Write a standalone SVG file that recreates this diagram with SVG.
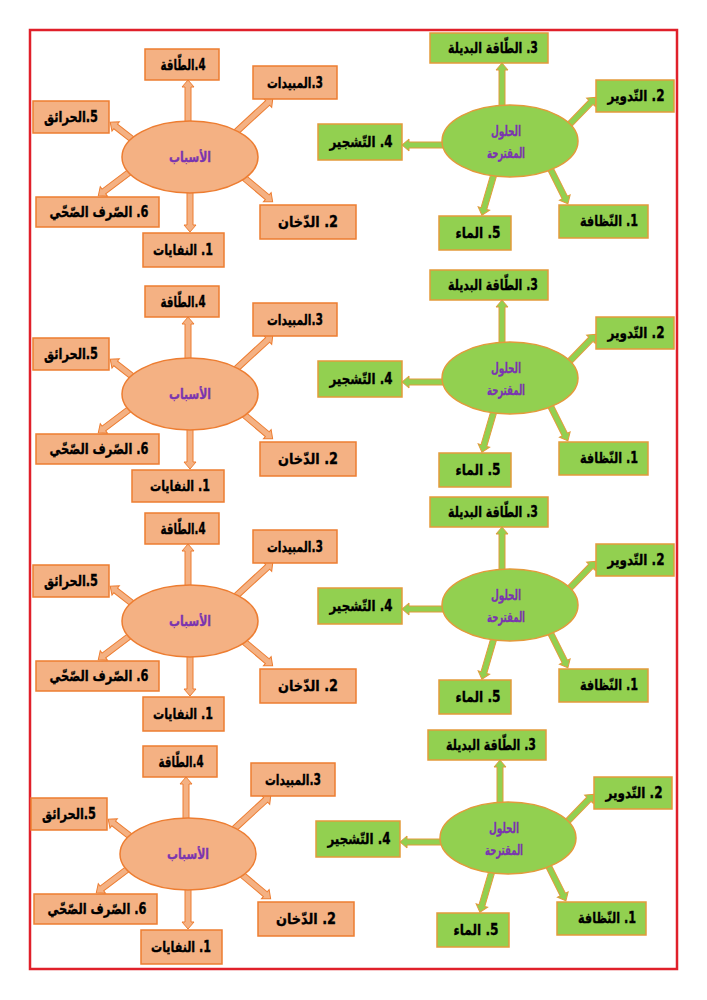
<svg xmlns="http://www.w3.org/2000/svg" width="707" height="1000" viewBox="0 0 707 1000">
<style>
.bo{fill:#F4B183;stroke:#ED7D31;stroke-width:1.5}
.bg{fill:#92D050;stroke:#E39A3B;stroke-width:1.5}
.ao{fill:#F4B183;stroke:#ED7D31;stroke-width:1}
.ag{fill:#92D050;stroke:#E39A3B;stroke-width:1}
.t{font-family:"DejaVu Sans",sans-serif;font-weight:bold;font-size:15px;fill:#000;stroke:#000;stroke-width:0.35;text-anchor:middle;direction:rtl}
.tc{font-family:"DejaVu Sans",sans-serif;font-weight:bold;font-size:14px;fill:#7A35B0;stroke:#7A35B0;stroke-width:0.3;text-anchor:middle;direction:rtl}
</style>
<rect x="0" y="0" width="707" height="1000" fill="#fff"/>
<rect x="30" y="30" width="647" height="939" fill="none" stroke="#E0202A" stroke-width="2.5"/>
<defs>
<g id="arrC">
<path class="ao" transform="translate(188,124) rotate(-90)" d="M0,-3H37V-6L44,0L37,6V3H0Z"/>
<path class="ao" transform="translate(236,132) rotate(-42.6)" d="M0,-3H43V-6L50,0L43,6V3H0Z"/>
<path class="ao" transform="translate(133,140) rotate(-141.9)" d="M0,-3H22V-6L29,0L22,6V3H0Z"/>
<path class="ao" transform="translate(131,171) rotate(142.9)" d="M0,-3H34V-6L41,0L34,6V3H0Z"/>
<path class="ao" transform="translate(190,191) rotate(90)" d="M0,-3H34V-6L41,0L34,6V3H0Z"/>
<path class="ao" transform="translate(242,176) rotate(40)" d="M0,-3H33V-6L40,0L33,6V3H0Z"/>
</g>
<g id="arrS">
<path class="ag" transform="translate(502,108) rotate(-90)" d="M0,-3H38V-6L45,0L38,6V3H0Z"/>
<path class="ag" transform="translate(568,126) rotate(-46)" d="M0,-3H33V-6L40,0L33,6V3H0Z"/>
<path class="ag" transform="translate(445,145) rotate(180)" d="M0,-3H36V-6L43,0L36,6V3H0Z"/>
<path class="ag" transform="translate(550,168) rotate(63.4)" d="M0,-3H33V-6L40,0L33,6V3H0Z"/>
<path class="ag" transform="translate(494,174) rotate(106.3)" d="M0,-3H36V-6L43,0L36,6V3H0Z"/>
</g>
</defs>
<g id="connectors">
<use href="#arrC"/><use href="#arrS"/>
<use href="#arrC" transform="translate(0,237)"/><use href="#arrS" transform="translate(0,237)"/>
<use href="#arrC" transform="translate(0,464)"/><use href="#arrS" transform="translate(0,464)"/>
<use href="#arrC" transform="translate(-2,697)"/><use href="#arrS" transform="translate(-2,697)"/>
</g>

<g id="causes-1">
<g id="c1-center"><ellipse class="bo" cx="190" cy="157" rx="68" ry="36"/><text class="tc" x="190" y="162" textLength="42" lengthAdjust="spacingAndGlyphs">الأسباب</text></g>
<g id="c1-n4"><rect class="bo" x="145" y="49" width="74" height="31"/><text class="t" x="183" y="70" textLength="45" lengthAdjust="spacingAndGlyphs">4.الطّاقة</text></g>
<g id="c1-n3"><rect class="bo" x="253" y="66" width="84" height="33"/><text class="t" x="295" y="88" textLength="56" lengthAdjust="spacingAndGlyphs">3.المبيدات</text></g>
<g id="c1-n5"><rect class="bo" x="33" y="101" width="76" height="32"/><text class="t" x="71" y="122" textLength="54" lengthAdjust="spacingAndGlyphs">5.الحرائق</text></g>
<g id="c1-n6"><rect class="bo" x="36" y="197" width="123" height="30"/><text class="t" x="99" y="217" textLength="99" lengthAdjust="spacingAndGlyphs">6. الصّرف الصّحّي</text></g>
<g id="c1-n1"><rect class="bo" x="143" y="233" width="81" height="34"/><text class="t" x="183" y="255" textLength="60" lengthAdjust="spacingAndGlyphs">1. النفايات</text></g>
<g id="c1-n2"><rect class="bo" x="260" y="205" width="96" height="34"/><text class="t" x="308" y="227" textLength="60" lengthAdjust="spacingAndGlyphs">2. الدّخان</text></g>
</g>
<g id="solutions-1">
<g id="s1-center"><ellipse class="bg" cx="510" cy="141" rx="68" ry="36"/><text class="tc" x="506" y="136" textLength="30" lengthAdjust="spacingAndGlyphs">الحلول</text><text class="tc" x="506" y="158" textLength="38" lengthAdjust="spacingAndGlyphs">المقترحة</text></g>
<g id="s1-n3"><rect class="bg" x="430" y="33" width="118" height="30"/><text class="t" x="493" y="53" textLength="90" lengthAdjust="spacingAndGlyphs">3. الطّاقة البديلة</text></g>
<g id="s1-n2"><rect class="bg" x="596" y="80" width="78" height="32"/><text class="t" x="636" y="101" textLength="57" lengthAdjust="spacingAndGlyphs">2. التّدوير</text></g>
<g id="s1-n4"><rect class="bg" x="318" y="124" width="84" height="36"/><text class="t" x="361" y="147" textLength="63" lengthAdjust="spacingAndGlyphs">4. التّشجير</text></g>
<g id="s1-n1"><rect class="bg" x="559" y="205" width="89" height="33"/><text class="t" x="609" y="226" textLength="58" lengthAdjust="spacingAndGlyphs">1. النّظافة</text></g>
<g id="s1-n5"><rect class="bg" x="439" y="216" width="72" height="34"/><text class="t" x="478" y="238" textLength="45" lengthAdjust="spacingAndGlyphs">5. الماء</text></g>
</g>

<g id="causes-2" transform="translate(0,237)">
<g id="c2-center"><ellipse class="bo" cx="190" cy="157" rx="68" ry="36"/><text class="tc" x="190" y="162" textLength="42" lengthAdjust="spacingAndGlyphs">الأسباب</text></g>
<g id="c2-n4"><rect class="bo" x="145" y="49" width="74" height="31"/><text class="t" x="183" y="70" textLength="45" lengthAdjust="spacingAndGlyphs">4.الطّاقة</text></g>
<g id="c2-n3"><rect class="bo" x="253" y="66" width="84" height="33"/><text class="t" x="295" y="88" textLength="56" lengthAdjust="spacingAndGlyphs">3.المبيدات</text></g>
<g id="c2-n5"><rect class="bo" x="33" y="101" width="76" height="32"/><text class="t" x="71" y="122" textLength="54" lengthAdjust="spacingAndGlyphs">5.الحرائق</text></g>
<g id="c2-n6"><rect class="bo" x="36" y="197" width="123" height="30"/><text class="t" x="99" y="217" textLength="99" lengthAdjust="spacingAndGlyphs">6. الصّرف الصّحّي</text></g>
<g id="c2-n1"><rect class="bo" x="132" y="233" width="92" height="32"/><text class="t" x="180" y="254" textLength="60" lengthAdjust="spacingAndGlyphs">1. النفايات</text></g>
<g id="c2-n2"><rect class="bo" x="260" y="205" width="96" height="34"/><text class="t" x="308" y="227" textLength="60" lengthAdjust="spacingAndGlyphs">2. الدّخان</text></g>
</g>
<g id="solutions-2" transform="translate(0,237)">
<g id="s2-center"><ellipse class="bg" cx="510" cy="141" rx="68" ry="36"/><text class="tc" x="506" y="136" textLength="30" lengthAdjust="spacingAndGlyphs">الحلول</text><text class="tc" x="506" y="158" textLength="38" lengthAdjust="spacingAndGlyphs">المقترحة</text></g>
<g id="s2-n3"><rect class="bg" x="430" y="33" width="118" height="30"/><text class="t" x="493" y="53" textLength="90" lengthAdjust="spacingAndGlyphs">3. الطّاقة البديلة</text></g>
<g id="s2-n2"><rect class="bg" x="596" y="80" width="78" height="32"/><text class="t" x="636" y="101" textLength="57" lengthAdjust="spacingAndGlyphs">2. التّدوير</text></g>
<g id="s2-n4"><rect class="bg" x="318" y="124" width="84" height="36"/><text class="t" x="361" y="147" textLength="63" lengthAdjust="spacingAndGlyphs">4. التّشجير</text></g>
<g id="s2-n1"><rect class="bg" x="559" y="205" width="89" height="33"/><text class="t" x="609" y="226" textLength="58" lengthAdjust="spacingAndGlyphs">1. النّظافة</text></g>
<g id="s2-n5"><rect class="bg" x="439" y="216" width="72" height="34"/><text class="t" x="478" y="238" textLength="45" lengthAdjust="spacingAndGlyphs">5. الماء</text></g>
</g>

<g id="causes-3" transform="translate(0,464)">
<g id="c3-center"><ellipse class="bo" cx="190" cy="157" rx="68" ry="36"/><text class="tc" x="190" y="162" textLength="42" lengthAdjust="spacingAndGlyphs">الأسباب</text></g>
<g id="c3-n4"><rect class="bo" x="145" y="49" width="74" height="31"/><text class="t" x="183" y="70" textLength="45" lengthAdjust="spacingAndGlyphs">4.الطّاقة</text></g>
<g id="c3-n3"><rect class="bo" x="253" y="66" width="84" height="33"/><text class="t" x="295" y="88" textLength="56" lengthAdjust="spacingAndGlyphs">3.المبيدات</text></g>
<g id="c3-n5"><rect class="bo" x="33" y="101" width="76" height="32"/><text class="t" x="71" y="122" textLength="54" lengthAdjust="spacingAndGlyphs">5.الحرائق</text></g>
<g id="c3-n6"><rect class="bo" x="36" y="197" width="123" height="30"/><text class="t" x="99" y="217" textLength="99" lengthAdjust="spacingAndGlyphs">6. الصّرف الصّحّي</text></g>
<g id="c3-n1"><rect class="bo" x="143" y="233" width="81" height="34"/><text class="t" x="183" y="255" textLength="60" lengthAdjust="spacingAndGlyphs">1. النفايات</text></g>
<g id="c3-n2"><rect class="bo" x="260" y="205" width="96" height="34"/><text class="t" x="308" y="227" textLength="60" lengthAdjust="spacingAndGlyphs">2. الدّخان</text></g>
</g>
<g id="solutions-3" transform="translate(0,464)">
<g id="s3-center"><ellipse class="bg" cx="510" cy="141" rx="68" ry="36"/><text class="tc" x="506" y="136" textLength="30" lengthAdjust="spacingAndGlyphs">الحلول</text><text class="tc" x="506" y="158" textLength="38" lengthAdjust="spacingAndGlyphs">المقترحة</text></g>
<g id="s3-n3"><rect class="bg" x="430" y="33" width="118" height="30"/><text class="t" x="493" y="53" textLength="90" lengthAdjust="spacingAndGlyphs">3. الطّاقة البديلة</text></g>
<g id="s3-n2"><rect class="bg" x="596" y="80" width="78" height="32"/><text class="t" x="636" y="101" textLength="57" lengthAdjust="spacingAndGlyphs">2. التّدوير</text></g>
<g id="s3-n4"><rect class="bg" x="318" y="124" width="84" height="36"/><text class="t" x="361" y="147" textLength="63" lengthAdjust="spacingAndGlyphs">4. التّشجير</text></g>
<g id="s3-n1"><rect class="bg" x="559" y="205" width="89" height="33"/><text class="t" x="609" y="226" textLength="58" lengthAdjust="spacingAndGlyphs">1. النّظافة</text></g>
<g id="s3-n5"><rect class="bg" x="439" y="216" width="72" height="34"/><text class="t" x="478" y="238" textLength="45" lengthAdjust="spacingAndGlyphs">5. الماء</text></g>
</g>

<g id="causes-4" transform="translate(-2,697)">
<g id="c4-center"><ellipse class="bo" cx="190" cy="157" rx="68" ry="36"/><text class="tc" x="190" y="162" textLength="42" lengthAdjust="spacingAndGlyphs">الأسباب</text></g>
<g id="c4-n4"><rect class="bo" x="145" y="49" width="74" height="31"/><text class="t" x="183" y="70" textLength="45" lengthAdjust="spacingAndGlyphs">4.الطّاقة</text></g>
<g id="c4-n3"><rect class="bo" x="253" y="66" width="84" height="33"/><text class="t" x="295" y="88" textLength="56" lengthAdjust="spacingAndGlyphs">3.المبيدات</text></g>
<g id="c4-n5"><rect class="bo" x="33" y="101" width="76" height="32"/><text class="t" x="71" y="122" textLength="54" lengthAdjust="spacingAndGlyphs">5.الحرائق</text></g>
<g id="c4-n6"><rect class="bo" x="36" y="197" width="123" height="30"/><text class="t" x="99" y="217" textLength="99" lengthAdjust="spacingAndGlyphs">6. الصّرف الصّحّي</text></g>
<g id="c4-n1"><rect class="bo" x="143" y="233" width="81" height="34"/><text class="t" x="183" y="255" textLength="60" lengthAdjust="spacingAndGlyphs">1. النفايات</text></g>
<g id="c4-n2"><rect class="bo" x="260" y="205" width="96" height="34"/><text class="t" x="308" y="227" textLength="60" lengthAdjust="spacingAndGlyphs">2. الدّخان</text></g>
</g>
<g id="solutions-4" transform="translate(-2,697)">
<g id="s4-center"><ellipse class="bg" cx="510" cy="141" rx="68" ry="36"/><text class="tc" x="506" y="136" textLength="30" lengthAdjust="spacingAndGlyphs">الحلول</text><text class="tc" x="506" y="158" textLength="38" lengthAdjust="spacingAndGlyphs">المقترحة</text></g>
<g id="s4-n3"><rect class="bg" x="430" y="33" width="118" height="30"/><text class="t" x="493" y="53" textLength="90" lengthAdjust="spacingAndGlyphs">3. الطّاقة البديلة</text></g>
<g id="s4-n2"><rect class="bg" x="596" y="80" width="78" height="32"/><text class="t" x="636" y="101" textLength="57" lengthAdjust="spacingAndGlyphs">2. التّدوير</text></g>
<g id="s4-n4"><rect class="bg" x="318" y="124" width="84" height="36"/><text class="t" x="361" y="147" textLength="63" lengthAdjust="spacingAndGlyphs">4. التّشجير</text></g>
<g id="s4-n1"><rect class="bg" x="559" y="205" width="89" height="33"/><text class="t" x="609" y="226" textLength="58" lengthAdjust="spacingAndGlyphs">1. النّظافة</text></g>
<g id="s4-n5"><rect class="bg" x="439" y="216" width="72" height="34"/><text class="t" x="478" y="238" textLength="45" lengthAdjust="spacingAndGlyphs">5. الماء</text></g>
</g>
</svg>
